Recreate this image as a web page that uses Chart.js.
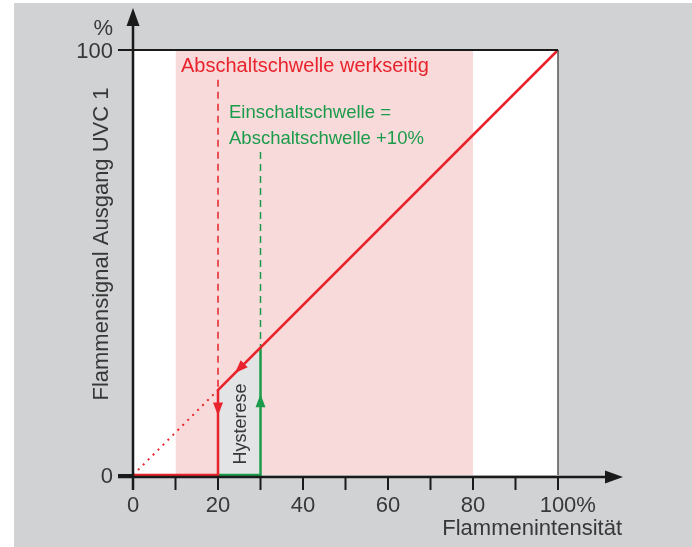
<!DOCTYPE html>
<html lang="de">
<head>
<meta charset="utf-8">
<script src="https://cdn.jsdelivr.net/npm/chart.js@4/dist/chart.umd.min.js"></script>
<style>
  html, body { margin: 0; padding: 0; background: #fff; }
  canvas { display: block; }
</style>
</head>
<body>
<canvas id="chart" width="692" height="547"></canvas>
<script>
// 軸の目盛り
const xTickValues = [0, 10, 20, 30, 40, 50, 60, 70, 80, 90, 100];
const xLabelValues = [0, 20, 40, 60, 80, 100];
const xLabelTexts = ['0', '20', '40', '60', '80', '100'];
const yLabelValues = [0, 100];
const yLabelTexts = ['0', '100'];

// 曲線データ (Flammenintensität %, Signal %)
const bandRange = [10, 80];
const offCurve = [[100, 100], [20, 20], [20, 0], [0, 0]];
const onCurve = [[20, 0], [30, 0], [30, 30]];
const dottedCurve = [[0, 0], [20, 20]];
const offThreshold = [[20, 93], [20, 20]];
const onThreshold = [[30, 76], [30, 30]];
const hysteresis = [[20, 20], [30, 30]];

// 矢印 (始点 → 先端)
const arrowFrom = [[20, 20], [30, 0], [30, 30]];
const arrowTip = [[20, 14], [30, 19], [24, 24]];

const RED = '#e8232b';
const GREEN = '#1b9c4b';
const PINK = '#f9dadb';
const TEXT = '#383838';
const FONT = '"Liberation Sans", Arial, Helvetica, sans-serif';

const toXY = pts => pts.map(([x, y]) => ({ x, y }));

function head(ctx, x, y, angle, len, half, color) {
  ctx.save();
  ctx.translate(x, y);
  ctx.rotate(angle);
  ctx.beginPath();
  ctx.moveTo(0, 0);
  ctx.lineTo(-len, -half);
  ctx.lineTo(-len, half);
  ctx.closePath();
  ctx.fillStyle = color;
  ctx.fill();
  ctx.restore();
}

const decor = {
  id: 'decor',
  beforeDraw(chart) {
    const { ctx, width, height, chartArea: a } = chart;
    ctx.save();
    ctx.fillStyle = '#fff';
    ctx.fillRect(0, 0, width, height);
    ctx.fillStyle = '#d1d2d4';
    ctx.fillRect(14, 3, width - 14, height - 3);
    ctx.fillStyle = '#fff';
    ctx.fillRect(a.left, a.top, a.right - a.left, a.bottom - a.top);
    ctx.restore();
  },
  afterDatasetsDraw(chart) {
    const { ctx, chartArea: a, scales: { x, y } } = chart;
    ctx.save();

    // 枠線
    ctx.strokeStyle = '#555';
    ctx.lineWidth = 1.5;
    ctx.beginPath();
    ctx.moveTo(a.right, a.top);
    ctx.lineTo(a.right, a.bottom);
    ctx.stroke();
    ctx.strokeStyle = '#1a1a1a';
    ctx.lineWidth = 2;
    ctx.beginPath();
    ctx.moveTo(118, a.top);
    ctx.lineTo(a.right, a.top);
    ctx.stroke();

    // 軸
    ctx.strokeStyle = '#1a1a1a';
    ctx.lineWidth = 2.5;
    const axisY = a.bottom + 2;
    ctx.beginPath();
    ctx.moveTo(118, axisY);
    ctx.lineTo(608, axisY);
    ctx.moveTo(a.left, 490);
    ctx.lineTo(a.left, 22);
    ctx.stroke();
    head(ctx, 623, axisY, 0, 18, 6.5, '#1a1a1a');
    head(ctx, a.left, 8, -Math.PI / 2, 18, 6.5, '#1a1a1a');

    // 目盛り
    ctx.lineWidth = 2;
    ctx.beginPath();
    xTickValues.forEach(v => {
      const px = x.getPixelForValue(v);
      ctx.moveTo(px, axisY);
      ctx.lineTo(px, 490);
    });
    yLabelValues.forEach(v => {
      const py = y.getPixelForValue(v);
      ctx.moveTo(118, py);
      ctx.lineTo(a.left, py);
    });
    ctx.stroke();

    ctx.fillStyle = TEXT;
    ctx.font = `22px ${FONT}`;
    ctx.textBaseline = 'alphabetic';
    xLabelValues.forEach((v, i) => {
      const px = x.getPixelForValue(v);
      const w = ctx.measureText(xLabelTexts[i]).width;
      ctx.textAlign = 'left';
      ctx.fillText(xLabelTexts[i] + (v === 100 ? '%' : ''), px - w / 2, 512);
    });
    ctx.textAlign = 'right';
    yLabelValues.forEach((v, i) => {
      ctx.fillText(yLabelTexts[i], 113, y.getPixelForValue(v) + 8);
    });
    ctx.fillText('%', 113, 35);

    // 軸タイトル
    ctx.font = `22px ${FONT}`;
    ctx.textAlign = 'right';
    ctx.fillText('Flammenintensität', 622, 535);
    ctx.save();
    ctx.translate(108, 244);
    ctx.rotate(-Math.PI / 2);
    ctx.textAlign = 'center';
    ctx.fillText('Flammensignal Ausgang UVC 1', 0, 0);
    ctx.restore();

    // 矢印
    arrowTip.forEach((tip, i) => {
      const tx = x.getPixelForValue(tip[0]);
      const ty = y.getPixelForValue(tip[1]);
      const fx = x.getPixelForValue(arrowFrom[i][0]);
      const fy = y.getPixelForValue(arrowFrom[i][1]);
      head(ctx, tx, ty, Math.atan2(ty - fy, tx - fx), 13, 5, i === 1 ? GREEN : RED);
    });

    // 注記
    ctx.textAlign = 'left';
    ctx.font = `20px ${FONT}`;
    ctx.fillStyle = RED;
    ctx.fillText('Abschaltschwelle werkseitig', 181, 72);
    ctx.font = `18.5px ${FONT}`;
    ctx.fillStyle = GREEN;
    ctx.fillText('Einschaltschwelle =', 229, 118);
    ctx.fillText('Abschaltschwelle +10%', 229, 144);

    ctx.fillStyle = TEXT;
    ctx.font = `18px ${FONT}`;
    ctx.save();
    ctx.translate(246, 424);
    ctx.rotate(-Math.PI / 2);
    ctx.textAlign = 'center';
    ctx.fillText('Hysterese', 0, 0);
    ctx.restore();

    ctx.restore();
  }
};

const line = (pts, color, width, extra = {}) => ({
  type: 'line',
  data: toXY(pts),
  borderColor: color,
  borderWidth: width,
  pointRadius: 0,
  fill: false,
  clip: false,
  ...extra
});

new Chart(document.getElementById('chart'), {
  type: 'scatter',
  data: {
    datasets: [
      line(offCurve, RED, 2.5, { order: 1 }),
      line(onCurve, GREEN, 2.5, { order: 1 }),
      line(dottedCurve, RED, 2, { borderDash: [2, 5], order: 2 }),
      line(offThreshold, RED, 1.5, { borderDash: [7, 5], order: 2 }),
      line(onThreshold, GREEN, 1.5, { borderDash: [7, 5], order: 2 }),
      line(hysteresis, 'rgba(0,0,0,0)', 0, { fill: 'origin', backgroundColor: '#e3e4e6', order: 3 }),
      line(bandRange.map(v => [v, 100]), 'rgba(0,0,0,0)', 0, { fill: 'origin', backgroundColor: PINK, order: 4 })
    ]
  },
  options: {
    responsive: false,
    animation: false,
    layout: { padding: { left: 133, right: 134, top: 50, bottom: 72 } },
    plugins: { legend: { display: false }, tooltip: { enabled: false } },
    scales: {
      x: { type: 'linear', min: 0, max: 100, display: false },
      y: { type: 'linear', min: 0, max: 100, display: false }
    }
  },
  plugins: [decor]
});
</script>
</body>
</html>
